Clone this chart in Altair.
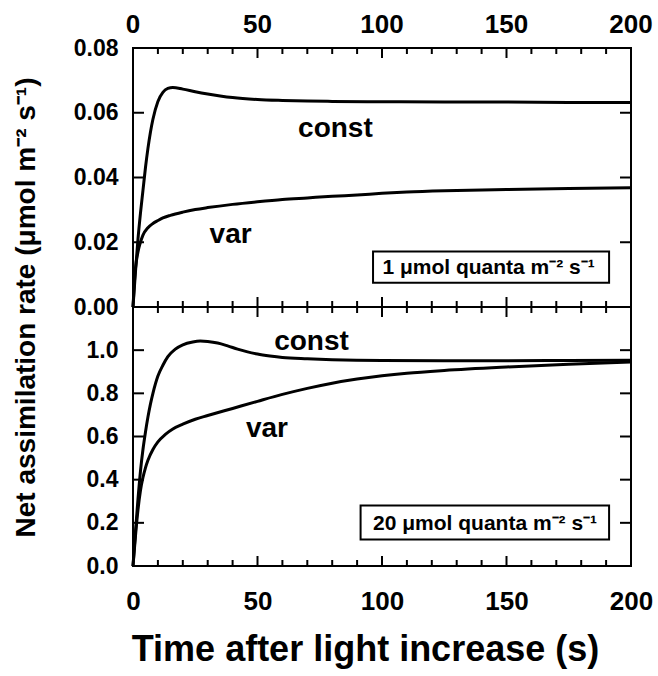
import altair as alt
import pandas as pd

FONT = "Liberation Sans"

# ---------------- data ----------------
# Top panel: 1 umol quanta m-2 s-1
top_const_t = [0, 1, 2, 3, 4, 5, 6, 7, 8, 10, 12, 14, 16, 20, 25, 30, 35, 40, 50, 60, 70, 80, 100, 125, 150, 175, 200]
top_const_v = [0.0, 0.011, 0.021, 0.029, 0.036, 0.043, 0.049, 0.054, 0.058, 0.0635, 0.0663, 0.0675, 0.0678, 0.0673,
               0.0665, 0.0658, 0.0652, 0.0647, 0.0641, 0.0638, 0.0636, 0.0635, 0.0634, 0.0633, 0.0633, 0.0632, 0.0632]
top_var_t = [0, 0.5, 1, 2, 3, 4, 6, 8, 10, 12, 15, 20, 25, 30, 40, 50, 60, 70, 80, 90, 100, 110, 125, 150, 175, 200]
top_var_v = [0.0, 0.007, 0.012, 0.017, 0.020, 0.0222, 0.0245, 0.0258, 0.0267, 0.0275, 0.0283, 0.0293, 0.0301, 0.0307,
             0.0317, 0.0325, 0.0332, 0.0337, 0.0342, 0.0346, 0.0351, 0.0355, 0.0359, 0.0363, 0.0366, 0.0368]

# Bottom panel: 20 umol quanta m-2 s-1
bot_const_t = [0, 1, 2, 3, 4, 5, 6, 7, 8, 10, 12, 14, 17, 20, 24, 27, 30, 34, 38, 42, 46, 50, 55, 60, 70, 80, 100, 125, 150, 175, 200]
bot_const_v = [0.0, 0.16, 0.31, 0.44, 0.54, 0.62, 0.69, 0.75, 0.80, 0.88, 0.93, 0.97, 1.005, 1.025, 1.038, 1.042, 1.04,
               1.033, 1.02, 1.005, 0.992, 0.982, 0.973, 0.966, 0.960, 0.956, 0.952, 0.951, 0.951, 0.952, 0.953]
bot_var_t = [0, 1, 2, 3, 4, 5, 6, 8, 10, 13, 16, 20, 25, 30, 40, 50, 60, 70, 80, 90, 100, 110, 125, 150, 175, 200]
bot_var_v = [0.0, 0.14, 0.26, 0.35, 0.41, 0.455, 0.49, 0.54, 0.575, 0.61, 0.635, 0.657, 0.68, 0.697, 0.73, 0.763,
             0.795, 0.823, 0.847, 0.866, 0.881, 0.893, 0.906, 0.922, 0.935, 0.945]

# curve labels (anchor in data units: time, rate)
label_text = ["const", "var", "const", "var"]
label_panel = ["top", "top", "bottom", "bottom"]
label_t = [81.3, 39.2, 71.7, 53.8]
label_v = [0.0526, 0.0199, 1.002, 0.598]

# boxed light-level annotations
box_panel = ["top", "bottom"]
box_t0 = [96.4, 91.4]
box_t1 = [191.2, 191.2]
box_v0 = [0.00747, 0.1228]
box_v1 = [0.01712, 0.2805]
box_text = ["1 μmol quanta m⁻² s⁻¹", "20 μmol quanta m⁻² s⁻¹"]
box_text_t = [142.8, 141.4]
box_text_v = [0.01005, 0.169]

x_major = [0, 50, 100, 150, 200]
x_minor = [v for v in range(10, 200, 10) if v % 50]
top_y_ticks = [0.0, 0.02, 0.04, 0.06, 0.08]
bot_y_ticks = [0.0, 0.2, 0.4, 0.6, 0.8, 1.0]

Y_TITLE = "Net assimilation rate  (μmol m⁻² s⁻¹)"
X_TITLE = "Time after light increase (s)"

# The two stacked panels share one view: the bottom panel keeps its own units
# (0-1.2), the top panel (0-0.08) is stacked above it, scaled by 15.
TOP_SCALE = 15.0
TOP_BASE = 1.2
Y_MAX = TOP_BASE * 2
X_MAX = 200

W, H = 498, 518
MAJ, MIN, YT = 10, 6, 11  # inward tick lengths (px)
HALF = 1.0                # half tick thickness (px)


def stack(field):
    return f"datum.panel == 'top' ? datum.{field} * {TOP_SCALE} + {TOP_BASE} : datum.{field}"


xscale = alt.Scale(domain=[0, X_MAX], nice=False, zero=False)
yscale = alt.Scale(domain=[0, Y_MAX], nice=False, zero=False)

x_axis = alt.Axis(orient="bottom", values=x_major, ticks=False, domain=False, grid=False,
                  labelPadding=22, labelFontSize=26, format="d", labelFlush=False,
                  titleFontSize=36, titlePadding=18, titleX=232, titleAlign="center")
y_values = bot_y_ticks + [v * TOP_SCALE + TOP_BASE for v in top_y_ticks]
y_axis = alt.Axis(orient="left", values=y_values, ticks=False, domain=False, grid=False,
                  labelPadding=15, labelFontSize=23,
                  labelExpr=f"datum.value >= {TOP_BASE - 0.01} ? format((datum.value - {TOP_BASE}) / {TOP_SCALE}, '.2f') : format(datum.value, '.1f')",
                  titleFontSize=28, titlePadding=33)


def X(field):
    return alt.X(field, type="quantitative", scale=xscale, axis=x_axis, title=X_TITLE)


def Y(field):
    return alt.Y(field, type="quantitative", scale=yscale, axis=y_axis, title=Y_TITLE)


lines_df = pd.DataFrame({
    "t": top_const_t + top_var_t + bot_const_t + bot_var_t,
    "v": top_const_v + top_var_v + bot_const_v + bot_var_v,
    "panel": ["top"] * (len(top_const_t) + len(top_var_t)) + ["bottom"] * (len(bot_const_t) + len(bot_var_t)),
    "series": ["top_const"] * len(top_const_t) + ["top_var"] * len(top_var_t)
    + ["bot_const"] * len(bot_const_t) + ["bot_var"] * len(bot_var_t),
})
lab_df = pd.DataFrame({"t": label_t, "v": label_v, "panel": label_panel, "label": label_text})
box_df = pd.DataFrame({"t0": box_t0, "t1": box_t1, "v0": box_v0, "v1": box_v1, "panel": box_panel})
bt_df = pd.DataFrame({"t": box_text_t, "v": box_text_v, "panel": box_panel, "label": box_text})
boundary_df = pd.DataFrame({"v": [0.0], "panel": ["top"]})
maj_df = pd.DataFrame({"tick": x_major})
min_df = pd.DataFrame({"tick": x_minor})
yt_df = pd.DataFrame({"v": bot_y_ticks + top_y_ticks,
                      "panel": ["bottom"] * len(bot_y_ticks) + ["top"] * len(top_y_ticks)})
top_lab_df = pd.DataFrame({"t": x_major})

lines = alt.Chart(lines_df).transform_calculate(y=stack("v")).mark_line(
    color="black", strokeWidth=3, interpolate="monotone"
).encode(x=X("t"), y=Y("y"), detail="series:N")

labels = alt.Chart(lab_df).transform_calculate(y=stack("v")).mark_text(
    font=FONT, fontWeight="bold", fontSize=28, baseline="alphabetic", align="center", color="black"
).encode(x=X("t"), y=Y("y"), text="label:N")

box = alt.Chart(box_df).transform_calculate(y0=stack("v0"), y1=stack("v1")).mark_rect(
    fill="white", stroke="black", strokeWidth=2
).encode(x=X("t0"), x2="t1:Q", y=Y("y0"), y2="y1:Q")

boxtext = alt.Chart(bt_df).transform_calculate(y=stack("v")).mark_text(
    font=FONT, fontWeight="bold", fontSize=21, baseline="alphabetic", align="center", color="black"
).encode(x=X("t"), y=Y("y"), text="label:N")

boundary = alt.Chart(boundary_df).transform_calculate(y=stack("v")).mark_rule(
    color="black", strokeWidth=2
).encode(y=Y("y"))

top_labels = alt.Chart(top_lab_df).mark_text(
    font=FONT, fontWeight="bold", fontSize=26, baseline="alphabetic", align="center", color="black"
).encode(x=X("t"), y=alt.value(-15), text=alt.Text("t:Q", format="d"))

py = Y_MAX / H      # data units per pixel (vertical)
px = X_MAX / W      # data units per pixel (horizontal)


def xt(df, ya, yb):
    # thin filled rectangles standing in for inward x-axis ticks
    return (
        alt.Chart(df)
        .transform_calculate(xa=f"datum.tick - {HALF * px}")
        .transform_calculate(xb=f"datum.tick + {HALF * px}")
        .transform_calculate(ya=repr(ya))
        .transform_calculate(yb=repr(yb))
        .mark_rect(color="black", opacity=1)
        .encode(x=X("xa"), x2="xb:Q", y=Y("ya"), y2="yb:Q")
    )


def yt(xa, xb):
    # thin filled rectangles standing in for inward y-axis ticks
    return (
        alt.Chart(yt_df)
        .transform_calculate(yc=stack("v"))
        .transform_calculate(ya=f"datum.yc - {HALF * py}")
        .transform_calculate(yb=f"datum.yc + {HALF * py}")
        .transform_calculate(xa=repr(xa))
        .transform_calculate(xb=repr(xb))
        .mark_rect(color="black", opacity=1)
        .encode(x=X("xa"), x2="xb:Q", y=Y("ya"), y2="yb:Q")
    )


ticks = [
    xt(maj_df, Y_MAX, Y_MAX - MAJ * py), xt(min_df, Y_MAX, Y_MAX - MIN * py),
    xt(maj_df, 0.0, MAJ * py), xt(min_df, 0.0, MIN * py),
    xt(maj_df, TOP_BASE - MAJ * py, TOP_BASE + MAJ * py), xt(min_df, TOP_BASE - MIN * py, TOP_BASE + MIN * py),
    yt(0.0, YT * px), yt(float(X_MAX), X_MAX - YT * px),
]

chart = (
    alt.layer(box, lines, labels, boxtext, boundary, top_labels, *ticks)
    .properties(width=W, height=H, padding={"left": 12, "top": 12, "right": 5, "bottom": 3},
                background="white")
    .configure_view(stroke="black", strokeWidth=2)
    .configure_axis(
        labelFont=FONT, labelFontWeight="bold", labelColor="black",
        titleFont=FONT, titleFontWeight="bold", titleColor="black",
        labelOverlap=False,
    )
)

chart.save("out.html", embed_options={"renderer": "svg", "actions": False})
